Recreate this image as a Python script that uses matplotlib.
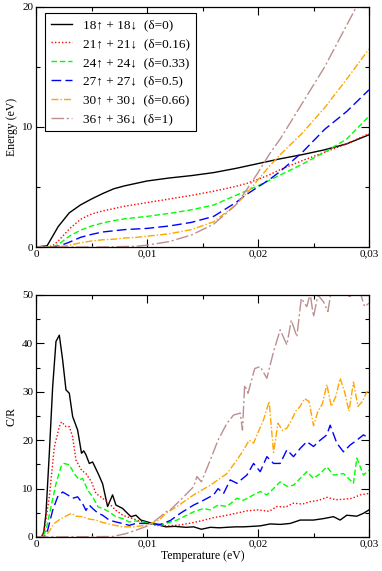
import matplotlib
matplotlib.use("Agg")
import matplotlib.pyplot as plt
from matplotlib.ticker import MultipleLocator, FuncFormatter

plt.rcParams['font.family'] = ['Liberation Serif', 'DejaVu Serif']
plt.rcParams['mathtext.fontset'] = 'stix'

# ---------------- data ----------------
labels = ["18\u2191 + 18\u2193  (\u03b4=0)",
          "21\u2191 + 21\u2193  (\u03b4=0.16)",
          "24\u2191 + 24\u2193  (\u03b4=0.33)",
          "27\u2191 + 27\u2193  (\u03b4=0.5)",
          "30\u2191 + 30\u2193  (\u03b4=0.66)",
          "36\u2191 + 36\u2193  (\u03b4=1)"]

# Energy panel
t_e = [0, 0.001, 0.0015, 0.002, 0.003, 0.004, 0.005, 0.006, 0.007, 0.008, 0.009, 0.010,
       0.012, 0.014, 0.016, 0.018, 0.019, 0.020, 0.021, 0.022, 0.024, 0.026, 0.028, 0.030]
e_18 = [0, 0.1, 0.9, 1.7, 2.85, 3.5, 4.0, 4.45, 4.85, 5.1, 5.3, 5.5,
        5.75, 5.95, 6.2, 6.55, 6.75, 6.95, 7.15, 7.35, 7.7, 8.1, 8.6, 9.35]
e_21 = [0, 0, 0.1, 0.5, 1.5, 2.3, 2.75, 3.0, 3.2, 3.4, 3.55, 3.7,
        4.0, 4.3, 4.65, 5.05, 5.3, 5.65, 6.0, 6.45, 7.2, 7.9, 8.6, 9.45]
e_24 = [0, 0, 0, 0.2, 0.9, 1.4, 1.75, 2.0, 2.2, 2.35, 2.45, 2.55,
        2.8, 3.1, 3.5, 4.3, 4.7, 5.1, 5.55, 6.0, 6.9, 7.9, 9.0, 10.9]
e_27 = [0, 0, 0, 0.05, 0.4, 0.8, 1.05, 1.25, 1.35, 1.45, 1.5, 1.55,
        1.75, 2.05, 2.55, 3.7, 4.4, 5.0, 5.6, 6.3, 7.9, 9.8, 11.3, 13.1]
e_30 = [0, 0, 0, 0, 0.15, 0.35, 0.5, 0.6, 0.65, 0.75, 0.8, 0.9,
        1.1, 1.45, 2.1, 3.5, 4.5, 5.6, 6.7, 7.7, 9.5, 11.6, 14.0, 16.5]
e_36 = [0, 0, 0, 0, 0, 0, 0, 0, 0.02, 0.04, 0.06, 0.15,
        0.45, 1.0, 1.9, 3.5, 4.8, 6.2, 7.7, 9.0, 12.0, 15.0, 18.5, 22.0]

# Heat capacity panel
t_c18 = [0, 0.0005, 0.0007, 0.0009, 0.0012, 0.0015, 0.0018, 0.0021, 0.0024, 0.0027, 0.0030,
         0.0033, 0.00375, 0.0041, 0.0043, 0.0045, 0.0048, 0.0051, 0.0056, 0.0060, 0.00645,
         0.0069, 0.0072, 0.0078, 0.00855, 0.0090, 0.00945, 0.0102, 0.0110, 0.0117, 0.0125,
         0.0135, 0.0142, 0.0149, 0.0157, 0.0165, 0.0172, 0.018, 0.0187, 0.0195, 0.0202,
         0.0211, 0.022, 0.0229, 0.0238, 0.025, 0.0259, 0.0268, 0.0274, 0.028, 0.0289,
         0.0295, 0.030]
c_18 = [0, 0, 1.0, 4.9, 17.3, 31, 40.4, 41.7, 36.6, 30.4, 29.7,
        24.9, 22.1, 17.3, 17.8, 17.0, 15.2, 15.5, 13.1, 11.0, 6.3,
        8.7, 6.6, 5.9, 4.2, 4.5, 3.5, 3.0, 2.5, 2.1, 2.2,
        2.0, 2.1, 1.6, 2.0, 1.9, 2.0, 2.1, 2.1, 2.2, 2.3,
        2.7, 2.6, 2.8, 3.5, 3.5, 3.8, 4.2, 3.5, 4.5, 4.3,
        4.9, 5.6]

t_c21 = [0, 0.0005, 0.00075, 0.0012, 0.00165, 0.0021, 0.0023, 0.0027, 0.0030, 0.0033, 0.0036,
         0.0041, 0.0045, 0.0050, 0.0054, 0.0060, 0.0066, 0.0072, 0.0078, 0.0087, 0.0096,
         0.0108, 0.012, 0.013, 0.014, 0.015, 0.016, 0.017, 0.018, 0.019, 0.020, 0.021,
         0.0217, 0.0225, 0.0232, 0.024, 0.0247, 0.0255, 0.0262, 0.027, 0.0277, 0.0285,
         0.0292, 0.030]
c_21 = [0, 0, 1.4, 8.3, 18.6, 22.8, 23.8, 22.8, 22.8, 20.7, 15.9,
        13.8, 13.1, 11.4, 9.0, 8.0, 6.9, 5.5, 4.5, 3.8, 3.1,
        2.4, 2.3, 2.5, 2.9, 3.4, 4.0, 4.4, 4.9, 5.4, 5.6, 5.3,
        6.3, 6.2, 7.0, 6.8, 7.3, 7.6, 8.2, 7.7, 7.8, 8.0,
        8.7, 9.0]

t_c24 = [0, 0.0006, 0.0009, 0.00135, 0.0018, 0.00225, 0.00255, 0.0030, 0.00345, 0.0039,
         0.0042, 0.00465, 0.0051, 0.0056, 0.0060, 0.0066, 0.0072, 0.0078, 0.0084, 0.0090,
         0.0099, 0.0112, 0.0127, 0.0142, 0.0151, 0.0157, 0.0164, 0.0172, 0.0181, 0.0187,
         0.0196, 0.0202, 0.0208, 0.0214, 0.0220, 0.0226, 0.0232, 0.0238, 0.0244, 0.0250,
         0.0256, 0.0262, 0.0268, 0.0277, 0.0286, 0.0289, 0.0295, 0.030]
c_24 = [0, 0, 1.4, 6.2, 11.0, 14.5, 15.2, 14.9, 13.1, 11.8,
        12.1, 9.7, 8.3, 6.2, 5.9, 5.2, 4.2, 3.8, 3.1, 3.3,
        3.0, 2.45, 3.5, 5.2, 5.9, 5.6, 6.6, 6.3, 8.0, 7.6,
        8.7, 9.4, 8.7, 10.0, 11.4, 10.5, 10.7, 12.1, 13.5, 12.1,
        13.1, 14.5, 12.8, 13.1, 11.1, 16.3, 12.8, 13.8]

t_c27 = [0, 0.0007, 0.00105, 0.0015, 0.00195, 0.0024, 0.00285, 0.0033, 0.00375, 0.0042,
         0.0045, 0.0048, 0.0051, 0.0056, 0.0060, 0.0066, 0.0072, 0.0078, 0.0084, 0.0090,
         0.0102, 0.0112, 0.0121, 0.013, 0.0142, 0.0151, 0.016, 0.0164, 0.0169, 0.0175,
         0.0181, 0.019, 0.0196, 0.0202, 0.0208, 0.0214, 0.022, 0.0226, 0.0232, 0.0238,
         0.0244, 0.025, 0.0256, 0.0262, 0.0265, 0.0271, 0.0277, 0.0283, 0.0289, 0.0295, 0.030]
c_27 = [0, 0, 1.4, 5.5, 8.3, 9.3, 8.7, 8.0, 8.3, 6.9,
        5.5, 6.6, 5.9, 4.9, 4.5, 3.5, 3.1, 2.8, 2.4, 2.8,
        2.8, 2.6, 3.4, 4.9, 6.6, 7.6, 8.7, 10.0, 9.0, 11.8,
        11.1, 12.8, 15.2, 13.5, 16.6, 15.2, 15.2, 18.0, 16.6, 18.3,
        19.7, 18.7, 20.0, 21.1, 23.1, 19.4, 17.6, 19.0, 20.0, 21.1, 20.4]

t_c30 = [0, 0.0007, 0.00105, 0.00165, 0.00225, 0.00285, 0.0032, 0.0036, 0.0042, 0.0048,
         0.0054, 0.0060, 0.0069, 0.0078, 0.0087, 0.0099, 0.0111, 0.0117, 0.0127, 0.0142,
         0.0157, 0.0172, 0.0181, 0.0187, 0.0192, 0.0196, 0.0201, 0.0205, 0.0210, 0.0214,
         0.0218, 0.0222, 0.0226, 0.0230, 0.0234, 0.0238, 0.0242, 0.0246, 0.0250, 0.0254,
         0.0258, 0.0262, 0.0266, 0.0270, 0.0274, 0.0278, 0.0282, 0.0286, 0.0290, 0.0294,
         0.0298, 0.030]
c_30 = [0, 0, 0.7, 2.8, 3.8, 4.5, 4.9, 4.3, 4.2, 3.7,
        3.5, 3.0, 2.5, 2.1, 2.1, 2.4, 3.5, 4.9, 6.3, 8.7,
        10.7, 13.1, 15.9, 18.0, 20.0, 19.4, 22.1, 24.2, 28.0, 17.5,
        23.5, 22.0, 22.5, 24.0, 26.0, 27.0, 28.6, 28.0, 23.0, 26.0,
        27.5, 31.5, 27.0, 29.0, 32.8, 30.0, 26.0, 32.0, 27.0, 28.0,
        30.0, 30.0]

t_c36 = [0, 0.0069, 0.0081, 0.009, 0.0102, 0.0112, 0.0117, 0.0121, 0.013, 0.0136,
         0.0142, 0.0145, 0.0149, 0.0157, 0.0164, 0.0172, 0.0178, 0.0184, 0.0186, 0.0188,
         0.0191, 0.0197, 0.0202, 0.0208, 0.0214, 0.022, 0.0226, 0.023, 0.0235, 0.0239,
         0.0244, 0.0247, 0.025, 0.0254, 0.0259, 0.0263, 0.0266, 0.0274, 0.0283, 0.029,
         0.0296, 0.030]
c_36 = [0, 0.1, 0.7, 1.4, 2.4, 4.2, 5.2, 5.6, 7.6, 9.0,
        10.4, 12.5, 11.4, 15.9, 20.0, 23.5, 25.2, 25.6, 22.1, 31.4,
        29.7, 34.8, 35.2, 32.8, 38.3, 42.8, 39.7, 44.8, 41.4, 49.3,
        47.6, 50.3, 45.5, 50.0, 48.6, 46.6, 51.0, 50.3, 49.7, 52.0,
        47.6, 48.3]

x_ticks = [0, 0.01, 0.02, 0.03]

# ---------------- styles ----------------
colors = ['#000000', '#ff0000', '#00ff00', '#0000ff', '#ffa500', '#bc8f8f']
styles = ['-', (0, (1, 1.5)), (0, (4, 2)), (0, (7, 3)), (0, (5, 1.5, 1, 1.5)), (0, (9, 2, 1.5, 2))]

e_series = [e_18, e_21, e_24, e_27, e_30, e_36]
c_series = [(t_c18, c_18), (t_c21, c_21), (t_c24, c_24), (t_c27, c_27), (t_c30, c_30), (t_c36, c_36)]

fig = plt.figure(figsize=(3.82, 5.71), dpi=100)
ax1 = fig.add_axes([36/382, 1-247/571, 333/382, 240/571])
ax2 = fig.add_axes([36/382, 1-537/571, 333/382, 242/571])

for i in range(6):
    ax1.plot(t_e, e_series[i], color=colors[i], ls=styles[i], lw=1.0, label=labels[i])
    ax2.plot(c_series[i][0], c_series[i][1], color=colors[i], ls=styles[i], lw=1.0)

fmt = FuncFormatter(lambda v, p: '0' if abs(v) < 1e-12 else ('%.2f' % v).replace('.', ','))

for ax in (ax1, ax2):
    ax.set_xlim(0, 0.03)
    ax.set_xticks(x_ticks)
    ax.xaxis.set_major_formatter(fmt)
    ax.xaxis.set_minor_locator(MultipleLocator(0.005))
    ax.tick_params(which='both', direction='in', top=True, right=True, labelsize=8, pad=2)
    ax.tick_params(which='major', length=6, width=0.8)
    ax.tick_params(which='minor', length=3, width=0.8)
    for s in ax.spines.values():
        s.set_linewidth(0.9)

ax1.set_ylim(0, 20)
ax1.yaxis.set_major_locator(MultipleLocator(10))
ax1.yaxis.set_minor_locator(MultipleLocator(5))
ax1.set_ylabel('Energy (eV)', fontsize=8.5, labelpad=3)

ax2.set_ylim(0, 50)
ax2.yaxis.set_major_locator(MultipleLocator(10))
ax2.yaxis.set_minor_locator(MultipleLocator(5))
ax2.set_ylabel('C/R', fontsize=8.5, labelpad=3)
ax2.set_xlabel('Temperature (eV)', fontsize=8.5, labelpad=1)

leg = ax1.legend(loc='upper left', bbox_to_anchor=(9/333, 1-6/240), borderaxespad=0,
                 fontsize=9.5, handlelength=1.6, handletextpad=0.8, labelspacing=0.5,
                 borderpad=0.45, fancybox=False, framealpha=1, edgecolor='black')
leg.get_frame().set_linewidth(0.8)

fig.savefig('out.png', dpi=100)
